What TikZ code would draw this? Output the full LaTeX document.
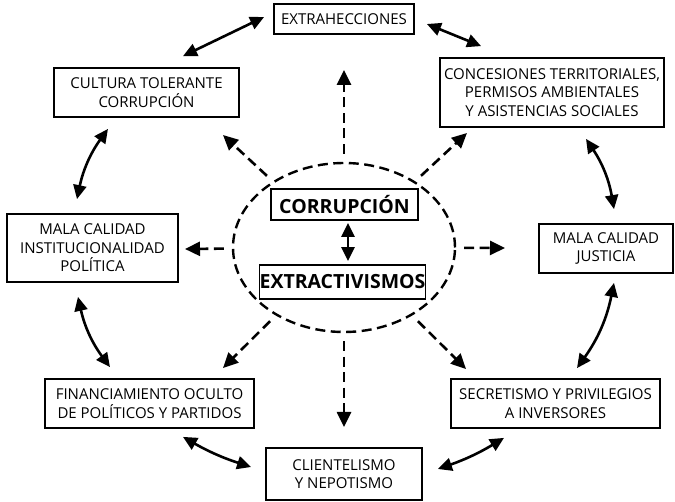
\documentclass[tikz,border=0pt]{standalone}
\usepackage{fontspec}
\setmainfont{Open Sans}
\usetikzlibrary{arrows.meta,shapes.geometric,calc}

\begin{document}
\begin{tikzpicture}[x=1pt,y=-1pt,
  box/.style={draw, line width=1.8pt, inner sep=0pt, align=center,
    font=\fontsize{15}{18.5}\selectfont},
  core/.style={draw, line width=1.8pt, inner sep=0pt, align=center,
    font=\fontsize{19.5}{22}\selectfont\bfseries},
  link/.style={line width=2.6pt,
    {Triangle[length=14pt,width=13pt]}-{Triangle[length=14pt,width=13pt]}},
  ray/.style={line width=2.6pt, dash pattern=on 10pt off 5.5pt,
    -{Triangle[length=15pt,width=14pt]}, shorten <=8pt},
]
\useasboundingbox (0,0) rectangle (675,502);

% outer ring of consequences
\node[box, minimum width=140pt, minimum height=30pt] (extr) at (344,19) {EXTRAHECCIONES};
\node[box, minimum width=224pt, minimum height=69pt] (conc) at (552,92.5)
  {CONCESIONES TERRITORIALES,\\PERMISOS AMBIENTALES\\Y ASISTENCIAS SOCIALES};
\node[box, minimum width=185pt, minimum height=49pt] (cult) at (146.5,92.5)
  {CULTURA TOLERANTE\\CORRUPCIÓN};
\node[box, minimum width=171pt, minimum height=68pt] (inst) at (92.5,248)
  {MALA CALIDAD\\INSTITUCIONALIDAD\\POLÍTICA};
\node[box, minimum width=134pt, minimum height=49pt] (just) at (606,248.5)
  {MALA CALIDAD\\JUSTICIA};
\node[box, minimum width=209pt, minimum height=49pt] (fin) at (149.5,403.5)
  {FINANCIAMIENTO OCULTO\\DE POLÍTICOS Y PARTIDOS};
\node[box, minimum width=209pt, minimum height=49pt] (secr) at (555.5,403.5)
  {SECRETISMO Y PRIVILEGIOS\\A INVERSORES};
\node[box, minimum width=156pt, minimum height=52pt] (clie) at (344,474)
  {CLIENTELISMO\\Y NEPOTISMO};

% central core
\node[ellipse, draw, line width=2.4pt, dash pattern=on 10pt off 5.5pt,
  minimum width=222pt, minimum height=169pt, inner sep=0pt] (ell) at (344,247.5) {};
\node[core, minimum width=147pt, minimum height=31pt] (corr) at (344.5,204.5) {CORRUPCIÓN};
\node[core, minimum width=161pt, minimum height=34pt] (extv) at (342.5,282) {EXTRACTIVISMOS};

\draw[link] ([shift={(3.5,2)}]corr.south) -- ([shift={(5.5,-3)}]extv.north);

% ring connections
\draw[link] ([shift={(12,5)}]extr.east) -- ([shift={(42,-11)}]conc.north west);
\draw[link] ([shift={(36.5,-11)}]cult.north) -- ([shift={(-9,-2)}]extr.west);
\draw[link] ([shift={(-38.5,11)}]cult.south) to[bend right=12] ([shift={(-15.5,-14)}]inst.north);
\draw[link] ([shift={(-14.5,14)}]inst.south) to[bend right=12] ([shift={(-39.5,-11)}]fin.north);
\draw[link] ([shift={(33.5,8)}]fin.south) to[bend right=6] ([shift={(-14,-7)}]clie.west);
\draw[link] ([shift={(-51.5,9)}]secr.south) to[bend left=6] ([shift={(15,-5)}]clie.east);
\draw[link] ([shift={(8,9)}]just.south) to[bend left=12] ([shift={(21.5,-10)}]secr.north);
\draw[link] ([shift={(34,11)}]conc.south) to[bend left=12] ([shift={(8,-14)}]just.north);

% rays from the core
\coordinate (tN) at (344,70);
\coordinate (tNE) at (467,133);
\coordinate (tE) at (505,248);
\coordinate (tSE) at (466,369);
\coordinate (tS) at (344,427);
\coordinate (tSW) at (223,368);
\coordinate (tW) at (185,249);
\coordinate (tNW) at (223,135);
\foreach \t in {tN,tNE,tE,tSE,tS,tSW,tW,tNW}
  \draw[ray] (ell) -- (\t);
\end{tikzpicture}
\end{document}
